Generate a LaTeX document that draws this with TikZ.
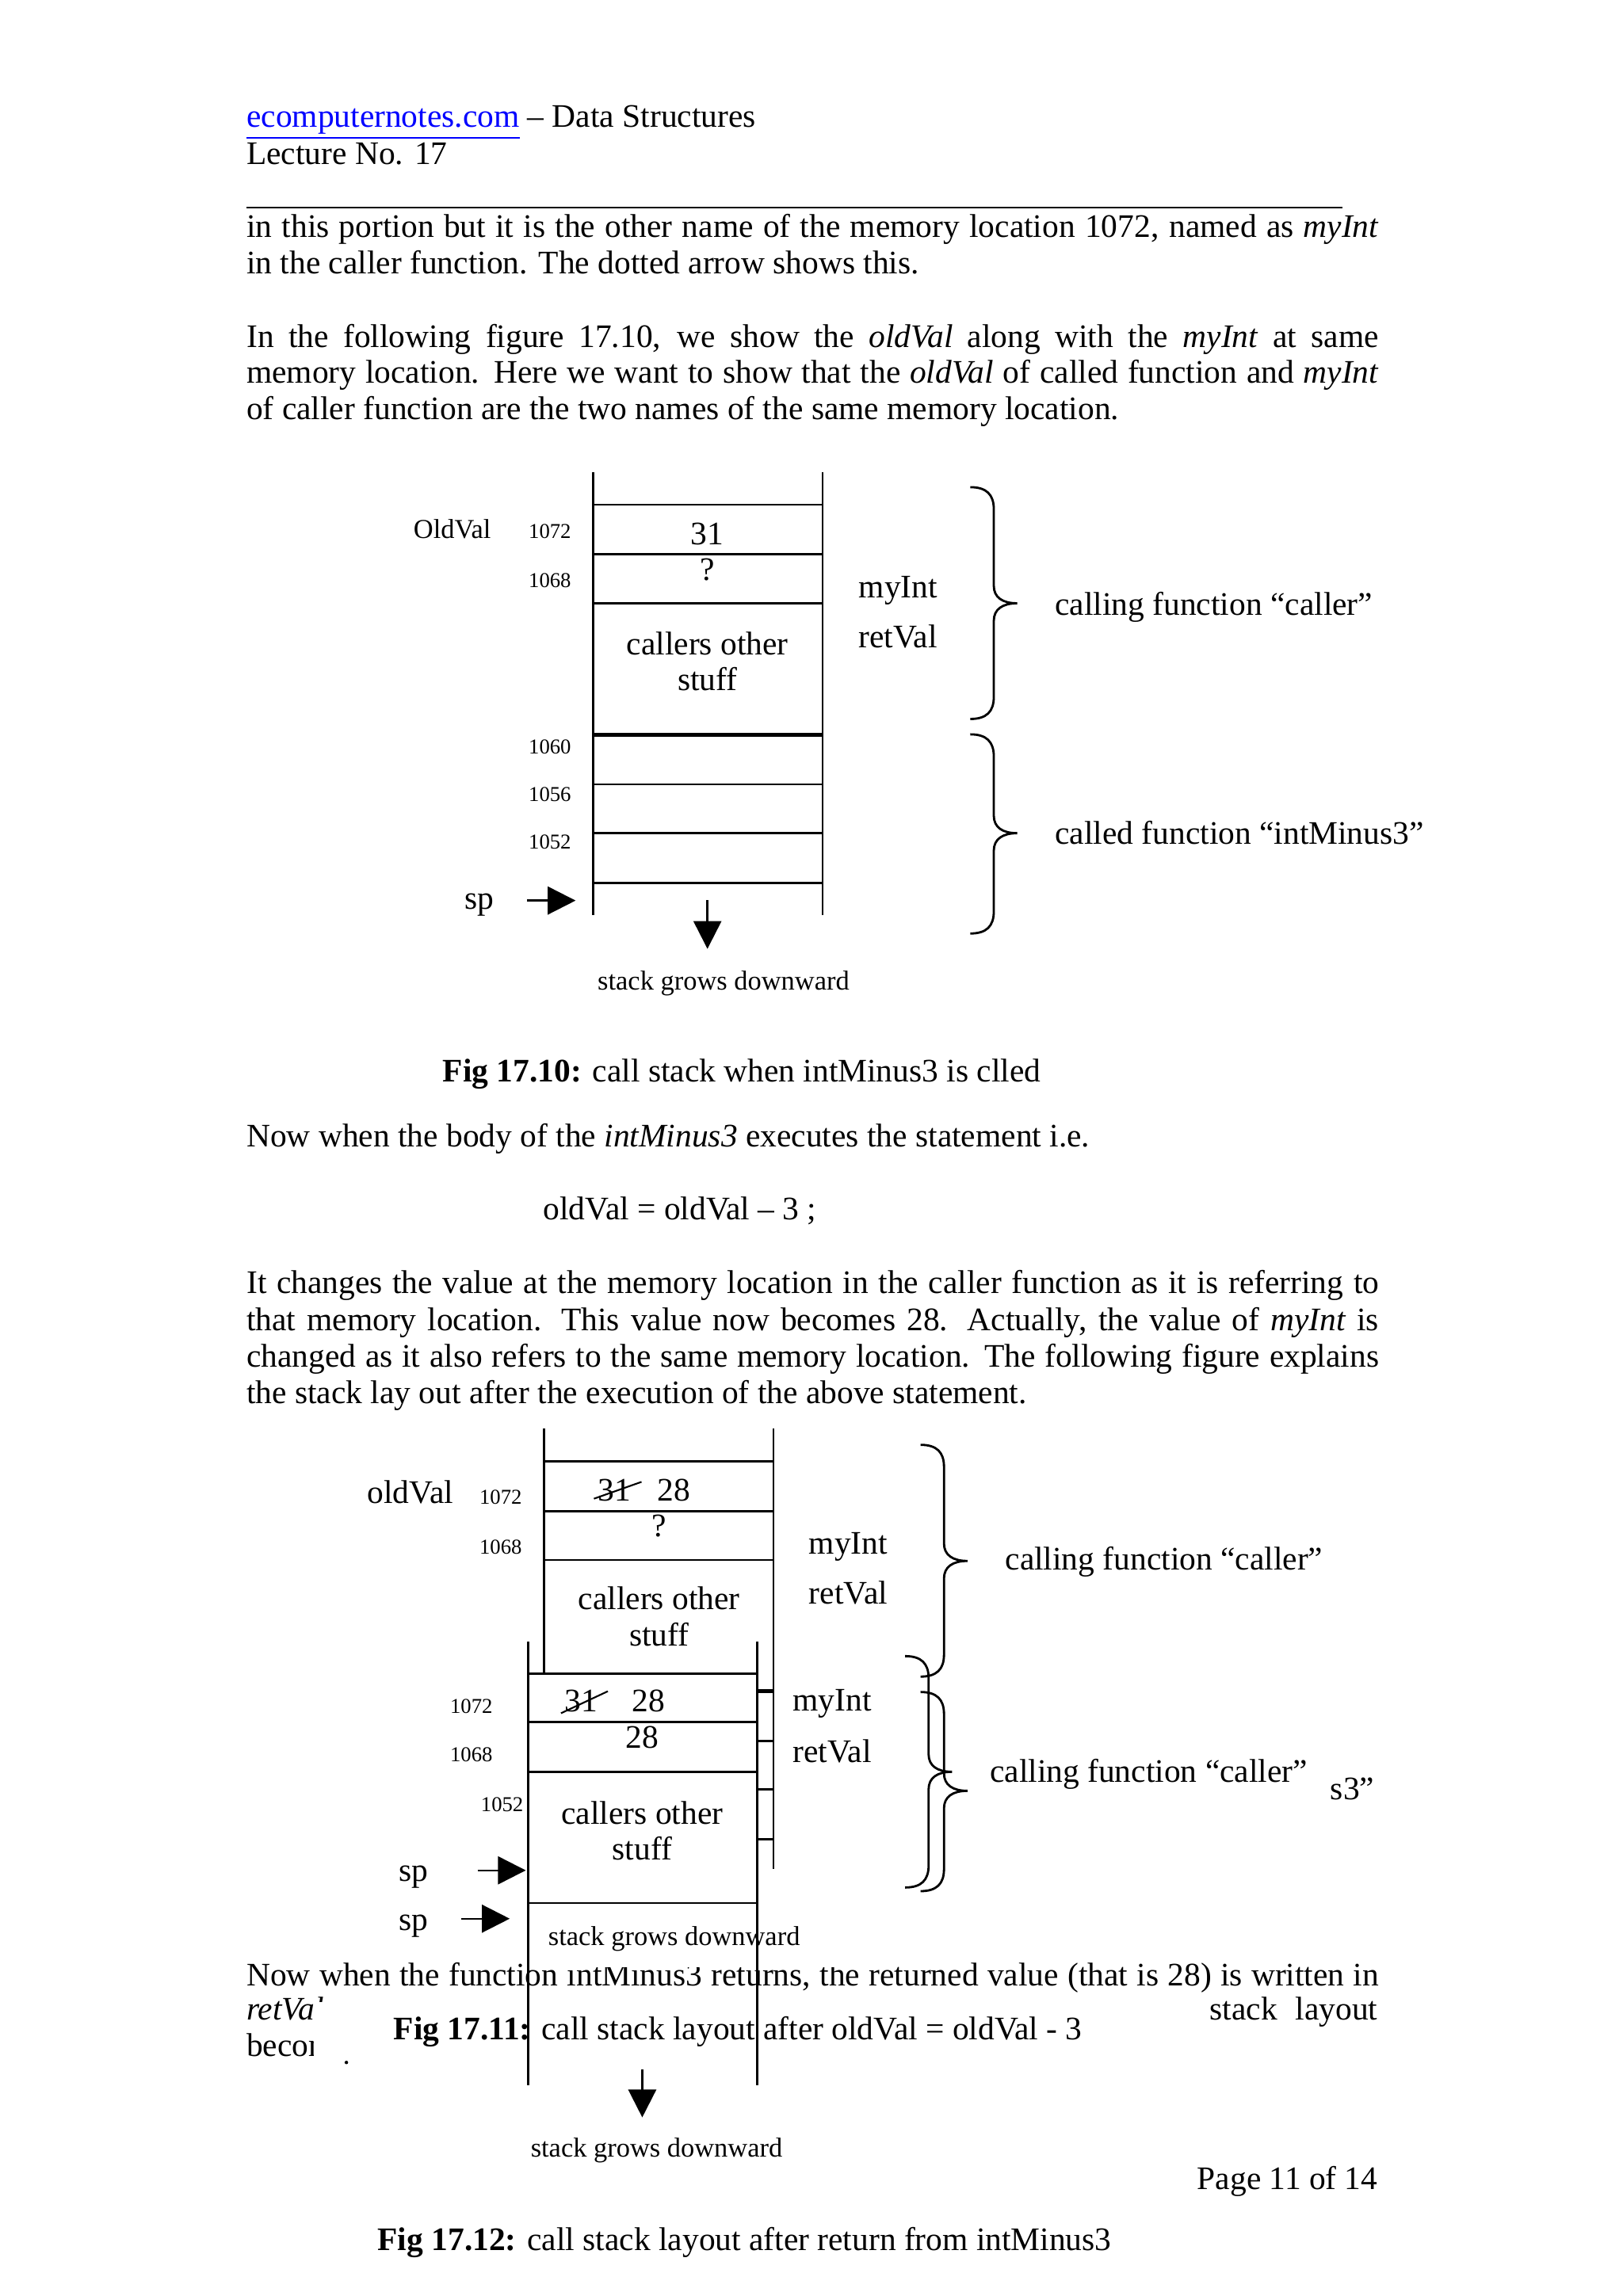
\documentclass[tikz,border=0pt]{standalone}
\usepackage{fontspec}
\setmainfont{Liberation Serif}
\usepackage{tikz}
\usetikzlibrary{arrows.meta}

\newlength{\parw}
\setlength{\parw}{142.9mm}
\newcommand{\jline}[1]{\makebox[\parw][s]{#1}}
% curly brace: ends at x=#1, top y=#2, tip y=#3, bottom y=#4
\newcommand{\callbrace}[4]{%
  \draw[bracepath] (#1,#2) .. controls ({#1+11},#2) and ({#1+16},{#2+5}) .. ({#1+16},{#2+15})
    -- ({#1+16},{#3-12}) .. controls ({#1+16},{#3-4}) and ({#1+22},#3) .. ({#1+32},#3)
    .. controls ({#1+22},#3) and ({#1+16},{#3+4}) .. ({#1+16},{#3+12})
    -- ({#1+16},{#4-15}) .. controls ({#1+16},{#4-5}) and ({#1+11},#4) .. (#1,#4);}

\begin{document}
\begin{tikzpicture}[x=0.18484mm, y=-0.18484mm,
    txt/.style={anchor=base west, inner sep=0pt, font=\fontsize{11.8pt}{13.5pt}\selectfont},
    mid/.style={txt, anchor=base},
    addr/.style={txt, font=\fontsize{7.6pt}{9pt}\selectfont},
    note/.style={txt, font=\fontsize{9.8pt}{11pt}\selectfont},
    stackline/.style={line width=0.7pt},
    sepline/.style={line width=1.5pt},
    bracepath/.style={line width=0.8pt},
    sparr/.style={line width=0.7pt, -{Triangle[length=10pt, width=10pt]}},
    cover/.style={fill=white, draw=none}
  ]
  \fill[white] (0,0) rectangle (1108,1568);
  \useasboundingbox (0,0) rectangle (1108,1568);

  % page header
  \node[txt] (site) at (168,86.6) {\textcolor{blue}{\underline{ecomputernotes.com}} – Data Structures};
  \node[txt] (lect) at (168,112) {Lecture No. 17};
  \draw[line width=0.6pt] (168,141.7) -- (916.6,141.7);

  \node[txt] (p1a) at (168,161.9) {\jline{in this portion but it is the other name of the memory location 1072, named as \textit{myInt}}};
  \node[txt] (p1b) at (168,186.7) {in the caller function. The dotted arrow shows this.};
  \node[txt] (p2a) at (168,237) {\jline{In the following figure 17.10, we show the \textit{oldVal} along with the \textit{myInt} at same}};
  \node[txt] (p2b) at (168,261.5) {\jline{memory location. Here we want to show that the \textit{oldVal} of called function and \textit{myInt}}};
  \node[txt] (p2c) at (168,286.7) {of caller function are the two names of the same memory location.};

  % Fig 17.10
  \draw[stackline] (405,322.4) -- (405,625) (561.5,322.4) -- (561.5,625);
  \foreach \y in {344.7,378.4,412,535.6,569,603}
    \draw[stackline] (405,\y) -- (561.5,\y);
  \draw[sepline] (405,502) -- (561.5,502);
  \node[note] (old10) at (282,367.7) {OldVal};
  \node[addr] (a1072) at (360.6,367.7) {1072};
  \node[addr] (a1068) at (360.6,401) {1068};
  \node[addr] (a1060) at (360.6,515) {1060};
  \node[addr] (a1056) at (360.6,547.5) {1056};
  \node[addr] (a1052) at (360.6,579.7) {1052};
  \node[mid] (v31) at (483,372) {31};
  \node[mid] (vq) at (483,396.4) {?};
  \node[mid] (oth1) at (483,447.4) {callers other};
  \node[mid] (oth2) at (483,471.8) {stuff};
  \node[txt] (myint10) at (586,408) {myInt};
  \node[txt] (ret10) at (586,442.5) {retVal};
  \callbrace{662.5}{332.7}{412}{491}
  \callbrace{662.5}{501.5}{569}{637.5}
  \node[txt] (caller10) at (720,420) {calling function “caller”};
  \node[txt] (called10) at (720,576.6) {called function “intMinus3”};
  \node[txt] (sp10) at (317,621) {sp};
  \coordinate (sp10s) at (360,615);
  \coordinate (sp10e) at (393,615);
  \draw[sparr] (sp10s) -- (sp10e);
  \coordinate (dn10s) at (483,614.7);
  \coordinate (dn10e) at (483,648);
  \draw[sparr] (dn10s) -- (dn10e);
  \node[note] (grow10) at (407.7,676) {stack grows downward};
  \node[txt] (cap10) at (302,739) {\textbf{Fig 17.10:} call stack when intMinus3 is clled};

  \node[txt] (p3) at (168,783.4) {Now when the body of the \textit{intMinus3} executes the statement i.e.};
  \node[txt] (code) at (370.6,833) {oldVal = oldVal – 3 ;};
  \node[txt] (p4a) at (168,883.5) {\jline{It changes the value at the memory location in the caller function as it is referring to}};
  \node[txt] (p4b) at (168,908.5) {\jline{that memory location. This value now becomes 28. Actually, the value of \textit{myInt} is}};
  \node[txt] (p4c) at (168,933.5) {\jline{changed as it also refers to the same memory location. The following figure explains}};
  \node[txt] (p4d) at (168,958.6) {the stack lay out after the execution of the above statement.};

  % Fig 17.11
  \draw[stackline] (371.5,975.5) -- (371.5,1143) (528,975.5) -- (528,1276.5);
  \foreach \y in {998,1032,1065.2}
    \draw[stackline] (371.5,\y) -- (528,\y);
  \foreach \y in {1189,1222,1256}
    \draw[stackline] (517,\y) -- (528,\y);
  \draw[sepline] (517,1155) -- (528,1155);
  \node[txt] (old11) at (250.5,1026.5) {oldVal};
  \node[addr] (b1072) at (327,1027) {1072};
  \node[addr] (b1068) at (327,1061.3) {1068};
  \node[addr] (b1052) at (328,1237) {1052};
  \node[txt] (w31) at (408,1025) {31};
  \draw[line width=0.6pt] (405.5,1023.5) -- (438,1012);
  \node[txt] (w28) at (448.5,1025) {28};
  \node[mid] (wq) at (450,1049.6) {?};
  \node[mid] (woth1) at (450,1099) {callers other};
  \node[mid] (woth2) at (450,1124.3) {stuff};
  \node[txt] (myint11) at (552,1061.3) {myInt};
  \node[txt] (ret11) at (552,1095.6) {retVal};
  \callbrace{628.5}{986.7}{1066}{1145}
  \callbrace{628.5}{1155.5}{1223}{1291.5}
  \node[txt] (caller11) at (686,1072) {calling function “caller”};
  \node[txt] (called11) at (908,1229) {s3”};
  \node[txt] (sp11) at (272,1285) {sp};
  \coordinate (sp11s) at (326,1277.3);
  \coordinate (sp11e) at (359,1277.3);
  \draw[sparr] (sp11s) -- (sp11e);

  % text under the figures
  \node[txt] (p5a) at (168,1356) {\jline{Now when the function intMinus3 returns, the returned value (that is 28) is written in}};
  \fill[cover] (385,1333) rectangle (592,1343.2);
  \node[note] (grow11) at (374,1328.5) {stack grows downward};
  \node[txt] (p5b) at (168,1379.5) {\textit{retVal}};
  \node[txt, anchor=base east] (p5c) at (941,1379.5) {stack\hspace{0.55em}layout};
  \node[txt] (p5d) at (168,1404.5) {becomes};
  \fill[cover] (214.5,1367) rectangle (826,1412);
  \node[txt] (cap11) at (268.5,1393) {\textbf{Fig 17.11:} call stack layout after oldVal = oldVal - 3};
  \fill (236.5,1408.5) circle (1.2);

  % Fig 17.12
  \draw[stackline] (360.5,1120.8) -- (360.5,1424) (517,1120.8) -- (517,1424);
  \foreach \y in {1143,1176,1210,1299.5}
    \draw[stackline] (360.5,\y) -- (517,\y);
  \node[addr] (c1072) at (307,1170.3) {1072};
  \node[addr] (c1068) at (307,1202.8) {1068};
  \node[txt] (x31) at (385,1169) {31};
  \draw[line width=0.6pt] (383,1170) -- (415,1155);
  \node[txt] (x28) at (431,1169) {28};
  \node[mid] (x28b) at (438.5,1194) {28};
  \node[mid] (xoth1) at (438.5,1245.7) {callers other};
  \node[mid] (xoth2) at (438.5,1270) {stuff};
  \node[txt] (myint12) at (541,1168.6) {myInt};
  \node[txt] (ret12) at (541,1203.7) {retVal};
  \callbrace{618}{1131}{1210}{1289}
  \node[txt] (caller12) at (675.5,1217) {calling function “caller”};
  \node[txt] (sp12) at (272,1318.4) {sp};
  \coordinate (sp12s) at (315,1310.3);
  \coordinate (sp12e) at (348,1310.3);
  \draw[sparr] (sp12s) -- (sp12e);
  \coordinate (dn12s) at (438.5,1413);
  \coordinate (dn12e) at (438.5,1446);
  \draw[sparr] (dn12s) -- (dn12e);
  \node[note] (grow12) at (362,1473) {stack grows downward};
  \node[txt, anchor=base east] (page) at (941,1495) {Page 11 of 14};
  \node[txt] (cap12) at (257.5,1537) {\textbf{Fig 17.12:} call stack layout after return from intMinus3};
\end{tikzpicture}
\end{document}
